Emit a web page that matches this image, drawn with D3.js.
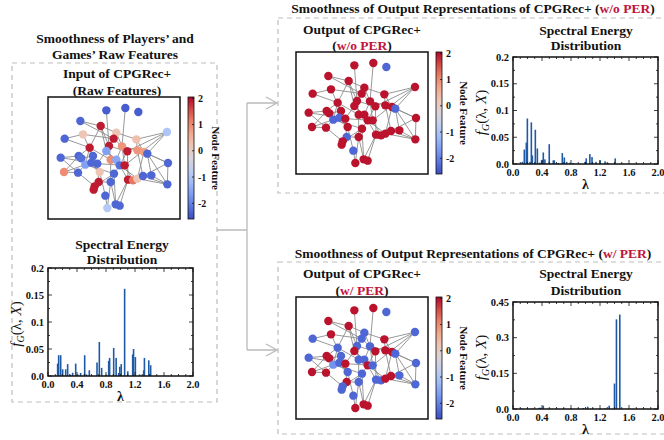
<!DOCTYPE html>
<html lang="en">
<head>
    <meta charset="UTF-8">
    <title>Smoothness of CPGRec+ representations</title>
    <script src="https://d3js.org/d3.v7.min.js"></script>
    <style>
        body { margin: 0; background: #fff; }
        text { font-family: "Liberation Serif", "Times New Roman", serif; font-weight: bold; fill: #111; }
    </style>
</head>
<body>
    <svg width="664" height="440"></svg>
    <script>
        // ---- graph layout (shared by the three node plots) ----
        const layoutX = [1.75,2.32,2.71,0.97,1.58,3.57,1.05,0.50,2.05,1.97,2.65,1.25,1.83,2.22,1.75,2.38,2.68,2.88,2.98,0.38,
                         0.92,1.00,1.35,1.12,1.30,1.48,1.88,2.05,2.15,2.30,3.60,0.48,0.90,1.55,1.98,1.52,1.88,2.40,2.55,2.68,
                         2.85,3.10,3.58,1.40,1.37,1.72,2.03,2.15,1.78];
        const layoutY = [0.40,0.33,0.45,0.72,0.87,1.05,1.12,1.25,1.07,1.25,1.27,1.52,1.47,1.48,1.62,1.63,1.60,1.65,1.70,1.82,
                         1.77,1.84,1.77,2.03,1.97,2.00,1.88,1.88,2.05,2.05,1.98,2.25,2.27,2.25,2.30,2.55,2.55,2.48,2.50,2.45,
                         2.37,2.35,2.62,2.68,2.78,2.96,3.22,3.26,3.33];
        const edges = [[1,13],[2,14],[4,5],[4,10],[5,9],[5,12],[5,15],[5,13],[7,8],[7,10],[7,23],[9,11],[9,14],[6,11],
                       [6,16],[6,19],[6,30],[10,16],[11,18],[11,17],[12,21],[12,27],[13,16],[14,17],[15,26],[15,28],
                       [16,29],[17,19],[17,41],[18,31],[19,31],[19,42],[19,43],[20,21],[20,33],[20,25],[21,24],[21,32],
                       [22,34],[23,26],[23,33],[24,32],[24,35],[25,34],[26,36],[26,30],[27,37],[28,38],[29,40],[30,39],
                       [31,43],[31,41],[33,44],[34,46],[35,44],[35,47],[36,45],[37,49],[38,47],[38,48],[39,42],[40,43],
                       [41,43],[42,43],[44,36],[46,49],[47,37],[12,25],[13,27],[14,28],[15,29],[18,40],[16,38],[10,13],
                       [9,13],[22,23],[27,28],[36,37],[8,12],[12,24],[32,33],[29,35],[14,30]];

        // node feature values per plot
        const rawValues = [-2.4,-2.4,-2.4,-2.3,1.9,-1.0,0.2,-2.3,0.2,1.9,0.3,1.9,1.9,0.9,-1.6,1.9,0.9,0.8,-2.3,-2.3,
                           -2.3,-2.2,-2.3,-1.6,-2.3,-2.3,1.0,-1.5,-2.2,1.9,-2.3,1.0,-2.3,0.2,-2.3,1.9,-2.3,1.9,1.2,0.2,
                           -2.3,-2.3,-2.3,1.9,1.9,-2.3,-2.3,-2.3,-0.9];
        const woPerValues = [1.95,1.95,-2.3,1.95,1.95,1.95,1.95,1.95,1.95,1.95,1.95,1.95,1.95,1.95,1.95,1.95,1.95,1.95,-2.3,1.95,
                             1.95,1.95,1.95,-2.3,-2.3,1.95,1.95,1.95,1.95,1.95,1.95,1.95,1.95,1.95,1.95,-2.3,1.95,1.95,1.95,1.95,
                             1.95,1.95,1.95,1.95,1.95,-2.3,1.95,1.95,1.95];
        const wPerValues = [1.95,1.95,-2.3,1.95,1.95,-2.3,1.95,-2.3,-2.3,-2.3,1.95,-2.3,-2.3,-2.3,1.95,1.95,1.95,1.95,-2.3,-2.3,
                            1.95,1.95,-2.3,-1.8,-2.3,1.95,-2.3,-2.3,1.95,-2.3,-2.3,1.95,1.95,-2.3,-2.3,1.95,-2.3,-2.3,-2.3,1.95,
                            1.95,-2.3,-2.3,-2.3,-2.3,-2.3,1.95,1.95,1.95];

        // ---- spectral energy distributions ----
        const rawLambda = [0.133,0.147,0.175,0.202,0.244,0.271,0.308,0.34,0.382,0.41,0.45,0.506,0.53,0.57,0.676,0.708,0.74,0.8,
                           0.837,0.85,0.906,0.94,0.975,0.99,1.01,1.057,1.1,1.168,1.18,1.205,1.264,1.32,1.33,1.39,1.416];
        const rawEnergy = [0.023,0.0385,0.0385,0.0124,0.0124,0.022,0.0025,0.006,0.023,0.003,0.0056,0.0385,0.003,0.0105,0.025,
                           0.063,0.015,0.0025,0.028,0.0335,0.052,0.0335,0.0056,0.017,0.022,0.1615,0.0087,0.04,0.05,0.035,
                           0.003,0.0105,0.0335,0.029,0.02];
        const woPerLambda = [0.129,0.156,0.184,0.198,0.234,0.253,0.267,0.308,0.336,0.368,0.395,0.409,0.418,0.44,0.5,0.556,0.57,
                             0.625,0.68,0.708,0.74,0.786,0.83,0.993,1.01,1.06,1.09,1.145,1.2,1.27,1.31,1.41];
        const woPerEnergy = [0.004,0.027,0.040,0.085,0.004,0.0778,0.016,0.064,0.029,0.0025,0.0068,0.008,0.0216,0.0086,0.037,
                             0.0068,0.0068,0.002,0.0204,0.0123,0.004,0.0025,0.002,0.004,0.0105,0.0185,0.013,0.004,0.0068,
                             0.005,0.002,0.0105];
        const wPerLambda = [0.12,0.2,0.26,0.36,0.38,0.418,0.5,0.6,0.7,0.8,0.9,0.97,1.03,1.1,1.2,1.27,1.327,1.40,1.427,1.473];
        const wPerEnergy = [0.002,0.002,0.002,0.005,0.0055,0.014,0.002,0.002,0.002,0.003,0.002,0.004,0.01,0.002,0.002,0.003,
                            0.014,0.107,0.377,0.397];

        const lambdaTicks = [0, 0.4, 0.8, 1.2, 1.6, 2.0];
        const energyTicksA = [0, 0.05, 0.1, 0.15, 0.2];
        const energyLabelsA = ["0.0", "0.05", "0.1", "0.15", "0.2"];
        const energyTicksB = [0, 0.15, 0.3, 0.45];
        const energyLabelsB = ["0.0", "0.15", "0.3", "0.45"];
        const colorbarTicks = [2, 1, 0, -1, -2];

        const svg = d3.select("svg");
        const red = "#c0143c";
        const dashGray = "#bdbdbd";

        // coolwarm-like colour scale
        const coolwarm = d3.interpolateRgbBasis(["#3b4cc0","#6788ee","#9abbff","#c9d7f0","#edd1c2","#f7a889","#e26952","#b40426"]);
        const colorScale = d3.scaleSequential(coolwarm).domain([-2.6, 2.05]);

        function centeredText(x, y, str, size) {
            svg.append("text").attr("x", x).attr("y", y)
                .attr("text-anchor", "middle").attr("font-size", size).text(str);
        }

        // text with a red part, e.g. "(w/o PER)"
        function mixedText(x, y, parts, size) {
            const t = svg.append("text").attr("x", x).attr("y", y)
                .attr("text-anchor", "middle").attr("font-size", size);
            parts.forEach(p => t.append("tspan").style("fill", p[1] ? red : "#111").text(p[0]));
        }

        // ---- network plot with colour bar ----
        function drawGraph(box, values) {
            const x = d3.scaleLinear().domain([0, 3.96]).range([box.x, box.x + box.w]);
            const y = d3.scaleLinear().domain([0, 3.66]).range([box.y, box.y + box.h]);
            const g = svg.append("g");
            g.append("rect").attr("x", box.x).attr("y", box.y).attr("width", box.w).attr("height", box.h)
                .attr("fill", "#fff").attr("stroke", "#111").attr("stroke-width", 1.5);
            g.append("g").selectAll("line").data(edges).enter().append("line")
                .attr("x1", d => x(layoutX[d[0] - 1])).attr("y1", d => y(layoutY[d[0] - 1]))
                .attr("x2", d => x(layoutX[d[1] - 1])).attr("y2", d => y(layoutY[d[1] - 1]))
                .attr("stroke", "#8c8c8c").attr("stroke-width", 0.9);
            g.append("g").selectAll("circle").data(values).enter().append("circle")
                .attr("cx", (d, i) => x(layoutX[i])).attr("cy", (d, i) => y(layoutY[i]))
                .attr("r", 4.2).attr("fill", d => colorScale(d));

            // colour bar
            const cbx = box.x + box.w + 8, cbw = 6;
            const cy = d3.scaleLinear().domain([-2.6, 2.05]).range([box.y + box.h, box.y]);
            const gid = "grad" + Math.round(box.y);
            const grad = svg.append("defs").append("linearGradient").attr("id", gid)
                .attr("x1", 0).attr("y1", 1).attr("x2", 0).attr("y2", 0);
            d3.range(0, 1.0001, 0.1).forEach(t => grad.append("stop")
                .attr("offset", t).attr("stop-color", coolwarm(t)));
            g.append("rect").attr("x", cbx).attr("y", box.y).attr("width", cbw).attr("height", box.h)
                .attr("fill", `url(#${gid})`).attr("stroke", "#111").attr("stroke-width", 0.8);
            colorbarTicks.forEach(v => {
                g.append("line").attr("x1", cbx + cbw - 2).attr("x2", cbx + cbw).attr("y1", cy(v)).attr("y2", cy(v))
                    .attr("stroke", "#111").attr("stroke-width", 0.8);
                g.append("text").attr("x", cbx + cbw + 4).attr("y", cy(v) + 3.5)
                    .attr("font-size", 10).text(String(v));
            });
            g.append("text").attr("transform", `translate(${cbx + cbw + 18},${box.y + box.h / 2}) rotate(90)`)
                .attr("text-anchor", "middle").attr("font-size", 11).text("Node Feature");
        }

        // ---- spectral energy bar chart ----
        function drawBars(box, lambdas, energy, yMax, yTicks, yLabels) {
            const x = d3.scaleLinear().domain([0, 2]).range([box.x, box.x + box.w]);
            const y = d3.scaleLinear().domain([0, yMax]).range([box.y + box.h, box.y]);
            const g = svg.append("g");
            g.append("g").selectAll("rect").data(energy).enter().append("rect")
                .attr("x", (d, i) => x(lambdas[i]) - 0.8).attr("width", 1.6)
                .attr("y", d => y(d)).attr("height", d => y(0) - y(d))
                .attr("fill", "#1f5aa6");

            // inward ticks on all four sides
            const minorX = d3.range(0, 2.0001, 0.1);
            const step = yTicks[1] - yTicks[0];
            const minorY = d3.range(0, yMax + 1e-9, step / 2);
            const tick = (x1, y1, x2, y2) => g.append("line").attr("x1", x1).attr("y1", y1).attr("x2", x2).attr("y2", y2)
                .attr("stroke", "#111").attr("stroke-width", 0.8);
            minorX.forEach(v => {
                const major = lambdaTicks.some(t => Math.abs(t - v) < 1e-6);
                const len = major ? 4 : 2;
                tick(x(v), box.y + box.h, x(v), box.y + box.h - len);
                tick(x(v), box.y, x(v), box.y + len);
            });
            minorY.forEach(v => {
                const major = yTicks.some(t => Math.abs(t - v) < 1e-6);
                const len = major ? 4 : 2;
                tick(box.x, y(v), box.x + len, y(v));
                tick(box.x + box.w, y(v), box.x + box.w - len, y(v));
            });
            g.append("rect").attr("x", box.x).attr("y", box.y).attr("width", box.w).attr("height", box.h)
                .attr("fill", "none").attr("stroke", "#111").attr("stroke-width", 1.5);

            lambdaTicks.forEach(v => g.append("text").attr("x", x(v)).attr("y", box.y + box.h + 12)
                .attr("text-anchor", "middle").attr("font-size", 10.5).text(v.toFixed(1)));
            yTicks.forEach((v, i) => g.append("text").attr("x", box.x - 4).attr("y", y(v) + 3.5)
                .attr("text-anchor", "end").attr("font-size", 10.5).text(yLabels[i]));

            g.append("text").attr("x", box.x + box.w / 2).attr("y", box.y + box.h + 25)
                .attr("text-anchor", "middle").attr("font-size", 14).text("λ");

            const yl = g.append("text")
                .attr("transform", `translate(${box.x - 27},${box.y + box.h / 2 + 2}) rotate(-90)`)
                .attr("text-anchor", "middle").attr("font-size", 15).style("font-weight", "normal");
            yl.append("tspan").style("font-style", "italic").text("f");
            yl.append("tspan").style("font-style", "italic").attr("font-size", 10).attr("dy", 3).text("G");
            yl.append("tspan").attr("dy", -3).text("(λ, ");
            yl.append("tspan").style("font-style", "italic").text("X");
            yl.append("tspan").text(")");
        }

        // ---- dashed panels and connectors ----
        svg.append("rect").attr("x", 12).attr("y", 63).attr("width", 205).attr("height", 339)
            .attr("fill", "none").attr("stroke", dashGray).attr("stroke-width", 1.2).attr("stroke-dasharray", "5,4");
        svg.append("rect").attr("x", 278).attr("y", 18).attr("width", 400).attr("height", 175)
            .attr("fill", "none").attr("stroke", dashGray).attr("stroke-width", 1.2).attr("stroke-dasharray", "5,4");
        svg.append("rect").attr("x", 278).attr("y", 262).attr("width", 400).attr("height", 172)
            .attr("fill", "none").attr("stroke", dashGray).attr("stroke-width", 1.2).attr("stroke-dasharray", "5,4");

        const arrowGray = "#bbbbbb";
        const conn = svg.append("g").attr("stroke", arrowGray).attr("stroke-width", 1.3).attr("fill", "none");
        conn.append("path").attr("d", "M217,230 H247 M247,103 V350 M247,103 H277 M247,350 H277");
        conn.append("path").attr("d", "M266,97 L277,103 L266,109");
        conn.append("path").attr("d", "M266,344 L277,350 L266,356");

        // ---- left panel ----
        centeredText(115, 43, "Smoothness of Players’ and", 13.5);
        centeredText(115, 59, "Games’ Raw Features", 13.5);
        centeredText(117, 78, "Input of CPGRec+", 13.5);
        centeredText(117, 95, "(Raw Features)", 13.5);
        drawGraph({ x: 48, y: 97, w: 132, h: 122 }, rawValues);
        centeredText(122, 249, "Spectral Energy", 13.5);
        centeredText(122, 264, "Distribution", 13.5);
        drawBars({ x: 48, y: 268, w: 145, h: 108 }, rawLambda, rawEnergy, 0.2, energyTicksA, energyLabelsA);

        // ---- top right panel ----
        mixedText(473, 13, [["Smoothness of Output Representations of CPGRec+ (", false], ["w/o PER", true], [")", false]], 13.5);
        centeredText(362, 34, "Output of CPGRec+", 13.5);
        mixedText(362, 50, [["(", false], ["w/o PER", true], [")", false]], 13.5);
        centeredText(586, 35, "Spectral Energy", 13.5);
        centeredText(586, 50, "Distribution", 13.5);
        drawGraph({ x: 296, y: 52, w: 132, h: 122 }, woPerValues);
        drawBars({ x: 513, y: 57, w: 145, h: 107 }, woPerLambda, woPerEnergy, 0.2, energyTicksA, energyLabelsA);

        // ---- bottom right panel ----
        mixedText(473, 258, [["Smoothness of Output Representations of CPGRec+ (", false], ["w/ PER", true], [")", false]], 13.5);
        centeredText(362, 278, "Output of CPGRec+", 13.5);
        mixedText(362, 295, [["(", false], ["w/ PER", true], [")", false]], 13.5);
        centeredText(586, 278, "Spectral Energy", 13.5);
        centeredText(586, 295, "Distribution", 13.5);
        drawGraph({ x: 296, y: 297, w: 132, h: 122 }, wPerValues);
        drawBars({ x: 513, y: 302, w: 145, h: 107 }, wPerLambda, wPerEnergy, 0.45, energyTicksB, energyLabelsB);
    </script>
</body>
</html>
